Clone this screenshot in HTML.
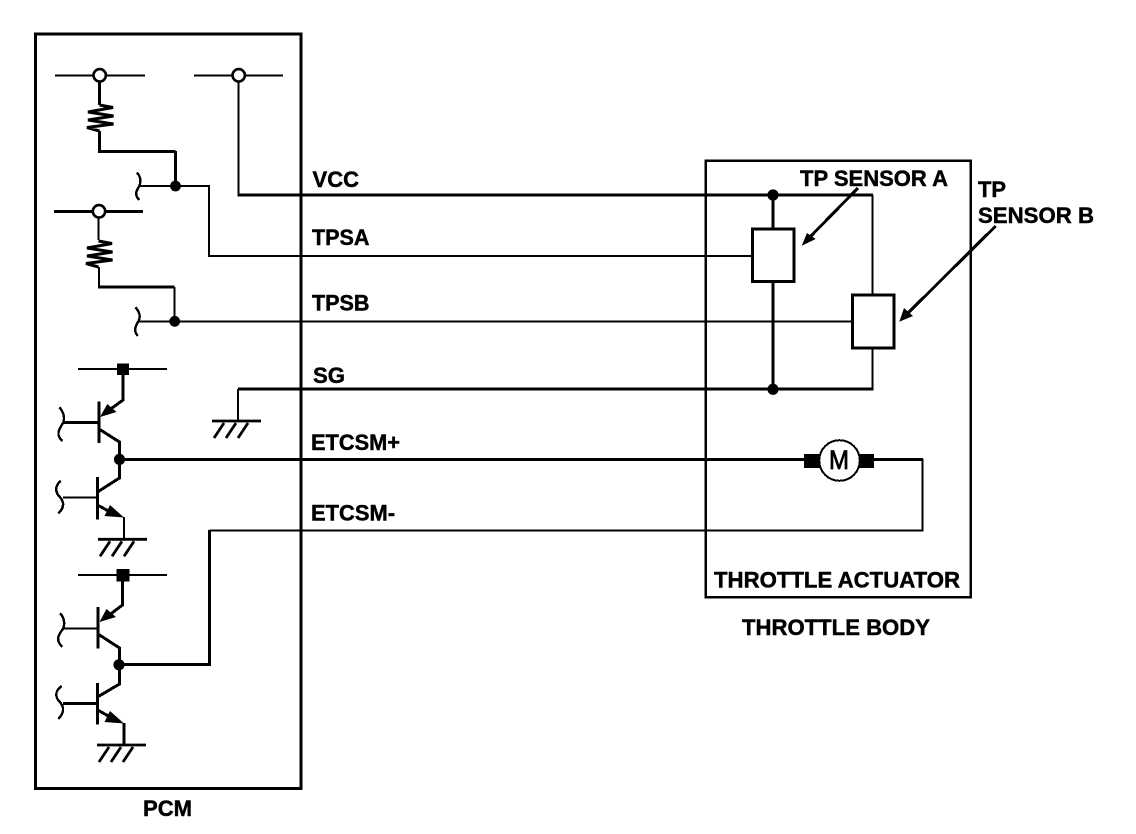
<!DOCTYPE html>
<html><head><meta charset="utf-8"><style>
html,body{margin:0;padding:0;background:#fff}
svg{display:block}
text{font-family:"Liberation Sans",sans-serif;font-weight:bold;font-size:22px;fill:#000;stroke:#000;stroke-width:.45}
</style></head><body>
<svg width="1136" height="834" viewBox="0 0 1136 834" xmlns="http://www.w3.org/2000/svg">
<defs>
<g id="res" fill="none" stroke="#000" stroke-width="3">
<path d="M99.5 105 L113 107.5 L88 112 L113.5 116 L88 120 L113.5 124 L87 127.5 L99.5 131"/>
</g>
<path id="gnd" fill="none" stroke="#000" stroke-width="2.8" d="M0 0 H49 M12 2 L2 17 M24 2 L14 17 M36 2 L26 17"/>
</defs>

<g fill="none" stroke="#000" stroke-linejoin="miter" shape-rendering="crispEdges">
<!-- boxes -->
<rect x="35.5" y="34" width="265.5" height="754.5" stroke-width="3"/>
<rect x="705.7" y="160.7" width="265" height="436.5" stroke-width="2.6"/>

<!-- upper rails -->
<path stroke-width="2" d="M55 75.5 H145 M194 75.5 H283"/>
<path stroke-width="3" d="M54 211.5 H143"/>
<path stroke-width="3" d="M99.5 81 V105"/>
<path stroke-width="2" d="M98.5 217 V240"/>
<path stroke-width="3" d="M99.5 131 V151.5 H175.5"/>
<path stroke-width="3" d="M175.5 151 V186"/>
<path stroke-width="2" d="M99 267 V287"/>
<path stroke-width="3" d="M98 287 H174.5"/>
<path stroke-width="2" d="M174.5 287 V321"/>

<!-- signal wires -->
<path stroke-width="2" d="M140 186 H209 V256 H752.7"/>
<path stroke-width="2" d="M139 321.7 H852.7"/>
<path stroke-width="2" d="M238.5 81 V195"/>
<path stroke-width="3" d="M237.5 195.2 H873"/>
<path stroke-width="2" d="M872.7 195 V295 M872.7 348 V389"/>
<path stroke-width="3" d="M773 195 V229 M773 282 V389"/>
<path stroke-width="3" d="M873.5 389.2 H238"/>
<path stroke-width="2" d="M238 389 V421"/>
<path stroke-width="3" d="M119 459.4 H804 M874 459.4 H923"/>
<path stroke-width="2" d="M922.7 459 V530.7 H209.5"/>
<path stroke-width="3" d="M209.5 530 V664.7 H119"/>

<!-- sensors -->
<rect x="752.7" y="229" width="41.3" height="52.7" fill="#fff" stroke-width="3"/>
<rect x="852.7" y="295" width="41.3" height="53" fill="#fff" stroke-width="3"/>

<!-- sensor arrows -->
<path stroke-width="3" d="M858 188 L808 239"/>
<path stroke-width="3" d="M995.7 226 L906 315"/>

<!-- transistor pair 1 -->
<path stroke-width="2" d="M78 369 H167"/>
<path stroke-width="3" d="M123 369 V400 L108 411"/>
<path stroke-width="2.6" d="M99 401.7 V443"/>
<path stroke-width="3" d="M63 422.7 H99"/>
<path stroke-width="3" d="M99 429 L119.5 442 V478 L97.5 492"/>
<path stroke-width="3" d="M97.5 477 V519.5"/>
<path stroke-width="2" d="M63 497.7 H97.5"/>
<path stroke-width="3" d="M97.5 505 L112 513"/>
<path stroke-width="2" d="M124 517 V539"/>

<!-- transistor pair 2 -->
<path stroke-width="2" d="M78 575 H167"/>
<path stroke-width="3" d="M122.5 575 V605 L108 616"/>
<path stroke-width="2.6" d="M98 607 V648.5"/>
<path stroke-width="2" d="M63 628.5 H98"/>
<path stroke-width="3" d="M98 634 L119.5 648 V684 L97.5 697"/>
<path stroke-width="3" d="M97.5 683 V724.5"/>
<path stroke-width="3" d="M63 703.3 H97.5"/>
<path stroke-width="3" d="M97.5 710 L112 718"/>
<path stroke-width="3" d="M124 723 V745"/>

<!-- motor -->
<circle cx="839.5" cy="460.5" r="20.3" fill="#fff" stroke-width="2"/>

<!-- input brackets -->
<g stroke-width="2.4">
<path d="M136.7 172.7 C140 175 141.5 181 139.3 186 C137 190 133.5 194 139.3 200"/>
<path d="M135.3 307.3 C139 311 141 316 138.5 321 C135.5 326 133 331 138 336"/>
<path d="M59.3 407.3 C63 411 65 417 63.5 422 C61 427 54 434 62.5 441"/>
<path d="M60.7 480.7 C56 485 55 490 58 495 C62 499 67 505 58.3 513.5"/>
<path d="M60 613.3 C63 616 65.5 622 63.3 628.3 C61 632 53.5 639 62.3 646.7"/>
<path d="M61.7 686 C56 690 55 695 58 700 C62 704 67 710 58.3 719"/>
</g>
</g>

<use href="#res"/>
<use href="#res" transform="translate(-1 136)"/>

<!-- grounds -->
<use href="#gnd" transform="translate(212 421)"/>
<use href="#gnd" transform="translate(98 539.3)"/>
<use href="#gnd" transform="translate(97 745)"/>

<!-- open nodes -->
<circle cx="99.7" cy="75.3" r="6.2" fill="#fff" stroke="#000" stroke-width="2.6"/>
<circle cx="238.7" cy="75.3" r="6.2" fill="#fff" stroke="#000" stroke-width="2.6"/>
<circle cx="99" cy="211.3" r="6.2" fill="#fff" stroke="#000" stroke-width="2.6"/>

<!-- filled elements -->
<g fill="#000" stroke="none">
<circle cx="175.5" cy="186" r="5.4"/>
<circle cx="174.7" cy="321.3" r="5.4"/>
<circle cx="773" cy="195" r="5.6"/>
<circle cx="773" cy="389.3" r="5.6"/>
<circle cx="119.5" cy="459.4" r="5.6"/>
<circle cx="119" cy="664.8" r="5.6"/>
<rect x="117" y="363.5" width="12" height="11.5"/>
<rect x="116.5" y="569" width="13" height="12.5"/>
<rect x="804" y="454" width="16" height="14"/>
<rect x="859" y="454" width="15" height="14"/>
<polygon points="801.7,245.7 807,233 815.7,239"/>
<polygon points="899.3,321.7 904,308 913,316"/>
<polygon points="100,417 107.3,404 116.5,412"/>
<polygon points="124,517.5 110,505 104.5,516"/>
<polygon points="99.5,622 106.5,609 116,617"/>
<polygon points="124,723.5 110,711 104.5,722"/>
</g>

<!-- labels -->
<text x="312.5" y="187" textLength="46.5" lengthAdjust="spacingAndGlyphs">VCC</text>
<text x="312" y="245" textLength="57.5" lengthAdjust="spacingAndGlyphs">TPSA</text>
<text x="312" y="310.5" textLength="57.5" lengthAdjust="spacingAndGlyphs">TPSB</text>
<text x="313" y="383" textLength="32" lengthAdjust="spacingAndGlyphs">SG</text>
<text x="311" y="450" textLength="89" lengthAdjust="spacingAndGlyphs">ETCSM+</text>
<text x="311" y="520.5" textLength="84" lengthAdjust="spacingAndGlyphs">ETCSM-</text>
<text x="800" y="186" textLength="148" lengthAdjust="spacingAndGlyphs">TP SENSOR A</text>
<text x="978" y="197" textLength="28" lengthAdjust="spacingAndGlyphs">TP</text>
<text x="978" y="223" textLength="116" lengthAdjust="spacingAndGlyphs">SENSOR B</text>
<text x="714" y="587.5" textLength="246" lengthAdjust="spacingAndGlyphs">THROTTLE ACTUATOR</text>
<text x="742" y="635" textLength="188" lengthAdjust="spacingAndGlyphs">THROTTLE BODY</text>
<text x="143" y="816" textLength="49" lengthAdjust="spacingAndGlyphs">PCM</text>
<text x="829" y="469" textLength="20" lengthAdjust="spacingAndGlyphs" style="font-weight:normal;font-size:27px;stroke-width:.8">M</text>
</svg>
</body></html>
